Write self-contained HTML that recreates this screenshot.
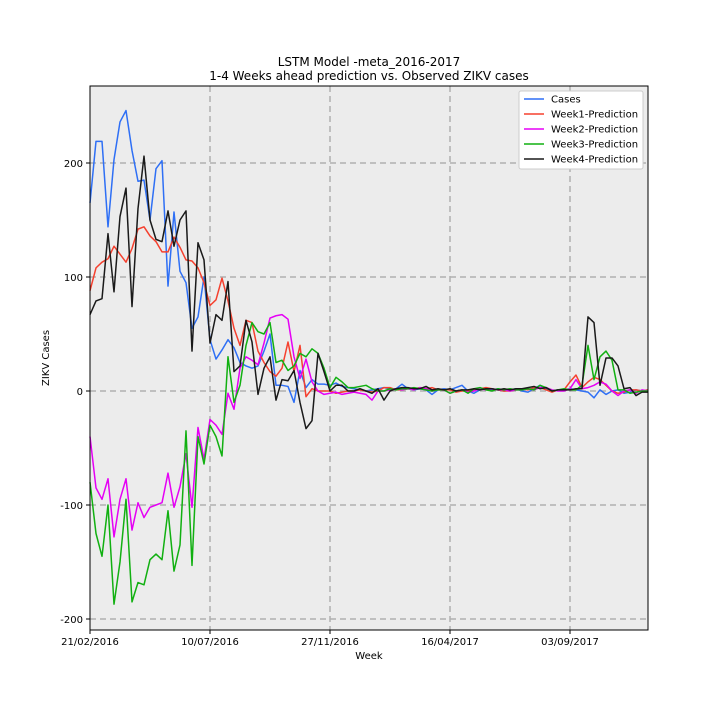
<!DOCTYPE html>
<html><head><meta charset="utf-8"><style>
body{margin:0;background:#fff;}
svg text{font-family:"DejaVu Sans","Liberation Sans",sans-serif;fill:#000;}
</style></head><body>
<svg id="chart" width="720" height="720" xmlns="http://www.w3.org/2000/svg">
<rect x="90" y="86" width="558" height="544" fill="#ececec"/>
<g id="grid"></g>
<g id="series"></g>
<rect x="90" y="86" width="558" height="544" fill="none" stroke="#000" stroke-width="1"/>
<g id="axes"></g>
<text x="369" y="66" text-anchor="middle" font-size="12">LSTM Model -meta_2016-2017</text>
<text x="369" y="80" text-anchor="middle" font-size="12">1-4 Weeks ahead prediction vs. Observed ZIKV cases</text>
<text x="369" y="659" text-anchor="middle" font-size="10">Week</text>
<text x="49" y="358" text-anchor="middle" font-size="10" transform="rotate(-90 49 358)">ZIKV Cases</text>
<g id="legend">
<rect x="519" y="91" width="124" height="78" fill="#fff" stroke="#ccc" rx="2"/>
</g>
</svg>
<script>
const cases=[165,219,219,144,203,236,246,211,184,185,150,195,202,92,157,105,95,55,65,100,45,28,36,45,38,25,22,20,22,35,50,5,5,4,-10,18,3,10,6,6,5,7,4,3,2,1,0,1,2,3,2,2,6,2,1,2,1,-3,1,2,1,3,5,0,-2,1,3,1,2,0,1,2,0,-1,2,5,2,0,1,1,2,1,0,-1,-6,1,-3,0,1,-2,-1,1,0,1];
const week1=[88,108,113,116,127,120,113,125,142,144,136,131,122,122,135,126,115,114,108,95,75,80,99,79,55,40,62,60,35,25,17,13,20,43,17,40,-5,2,0,0,0,-2,-1,0,0,1,0,-1,0,3,3,1,1,2,2,3,2,3,1,1,1,-1,0,0,1,2,3,2,1,0,0,1,2,1,3,3,1,-1,1,1,8,14,3,8,12,10,5,0,-2,-1,1,1,0,1];
const week2=[-40,-85,-95,-77,-128,-95,-77,-122,-98,-111,-102,-100,-98,-72,-102,-84,-55,-102,-32,-60,-25,-30,-38,-2,-16,20,30,27,23,42,64,66,67,63,30,11,28,8,0,-3,-2,-1,-3,-2,-1,-2,-3,-8,0,0,1,2,1,2,1,3,2,0,1,1,-2,0,1,-1,0,2,1,2,1,1,0,1,1,2,1,3,3,1,0,0,2,10,2,3,5,8,6,0,-4,0,1,-2,1,0];
const week3=[-80,-125,-145,-100,-187,-150,-95,-185,-168,-170,-148,-143,-148,-105,-158,-135,-35,-153,-40,-64,-30,-40,-57,30,-10,5,40,60,52,50,60,25,27,18,22,33,30,37,33,20,3,12,8,3,3,4,5,2,0,0,2,1,2,2,3,2,1,0,1,1,-2,0,1,-2,2,3,1,0,2,1,2,1,1,2,1,5,3,0,1,2,1,1,5,40,10,30,35,27,1,1,-2,-1,0,0];
const week4=[67,79,81,138,87,153,178,74,160,206,150,133,131,158,127,150,158,35,130,115,42,67,62,96,17,22,62,43,-3,20,30,-8,10,9,18,-10,-33,-26,33,17,0,5,5,0,0,2,0,-2,2,-8,0,2,3,3,2,2,4,1,2,1,2,0,1,1,2,1,2,2,1,2,1,2,2,3,4,2,3,0,1,1,1,2,2,65,60,5,29,29,22,2,3,-4,-1,-1];
const seriesNames=["Cases","Week1-Prediction","Week2-Prediction","Week3-Prediction","Week4-Prediction"];
const yTicks=[-200,-100,0,100,200];
const xTickWeeks=[0,20,40,60,80];
const xTickLabels=["21/02/2016","10/07/2016","27/11/2016","16/04/2017","03/09/2017"];

const NS="http://www.w3.org/2000/svg";
const colors=["#2e6ff5","#f5402e","#e500f5","#11b011","#1a1a1a"];
const X=w=>90+w*6;
const Y=v=>391-v*1.14;
function mk(tag,attrs,parent){const e=document.createElementNS(NS,tag);for(const k in attrs)e.setAttribute(k,attrs[k]);parent.appendChild(e);return e;}
const grid=document.getElementById('grid'),axes=document.getElementById('axes'),ser=document.getElementById('series'),leg=document.getElementById('legend');
yTicks.forEach(t=>{
  const g=mk('line',{x1:90,x2:648,y1:Y(t),y2:Y(t),stroke:'#b0b0b0','stroke-width':1.5,'stroke-dasharray':'6,4'},grid);
  
  
  const tk=mk('line',{x1:86,x2:90,y1:Y(t),y2:Y(t),stroke:'#000'},axes);
  
  
  const tx=mk('text',{x:83,y:Y(t)+4,'text-anchor':'end','font-size':10},axes);
  tx.textContent=t;
  
  
});
xTickWeeks.forEach((w,i)=>{
  if(w>0){const g=mk('line',{x1:X(w),x2:X(w),y1:86,y2:630,stroke:'#b0b0b0','stroke-width':1.5,'stroke-dasharray':'6,4'},grid);
  
  }
  const tk=mk('line',{x1:X(w),x2:X(w),y1:630,y2:634,stroke:'#000'},axes);
  
  
  const tx=mk('text',{x:X(w),y:645,'text-anchor':'middle','font-size':10},axes);
  tx.textContent=xTickLabels[i];
  
  
});
[cases,week1,week2,week3,week4].forEach((d,s)=>{
  const p=mk('polyline',{points:d.map((v,i)=>X(i)+','+Y(v)).join(' '),fill:'none',stroke:colors[s],'stroke-width':1.5,'stroke-linejoin':'round'},ser);
  
  
  const yy=99+s*15;
  const l=mk('line',{x1:524,x2:544,y1:yy,y2:yy,stroke:colors[s],'stroke-width':1.5},leg);
  
  
  const t=mk('text',{x:551,y:yy+3.5,'font-size':10},leg);
  t.textContent=seriesNames[s];
  
  
});
</script>
</body></html>
